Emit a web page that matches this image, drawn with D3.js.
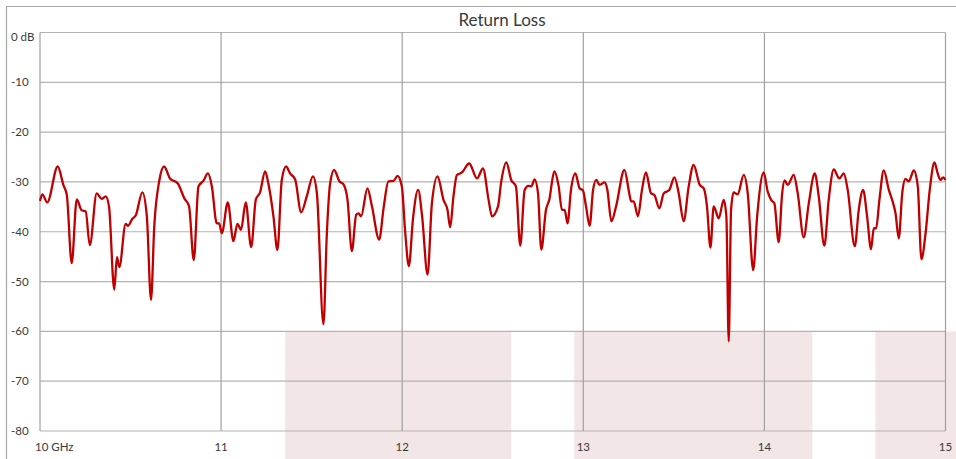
<!DOCTYPE html>
<html>
<head>
<meta charset="utf-8">
<script src="https://cdn.jsdelivr.net/npm/d3@7"></script>
<style>
  body { margin: 0; background: #fff; }
  svg text { font-family: Lato, "Open Sans", sans-serif; fill: #3a3a3a; }
</style>
</head>
<body>
<svg id="chart" width="956" height="459"></svg>
<script>
// frequency (GHz) and return loss (dB)
const freq = [10.000,10.013,10.040,10.098,10.129,10.148,10.175,10.203,10.230,10.252,10.275,10.313,10.341,10.363,10.381,10.410,10.425,10.438,10.473,10.485,
  10.510,10.529,10.565,10.590,10.613,10.631,10.659,10.685,10.718,10.761,10.797,10.823,10.849,10.875,10.902,10.927,10.949,10.976,10.989,11.004,
  11.037,11.068,11.090,11.110,11.136,11.166,11.192,11.215,11.243,11.261,11.289,11.311,11.335,11.359,11.381,11.409,11.442,11.473,11.507,11.529,
  11.565,11.584,11.602,11.624,11.654,11.676,11.698,11.722,11.746,11.759,11.773,11.808,11.833,11.873,11.897,11.924,11.952,11.974,11.998,12.017,
  12.037,12.059,12.088,12.110,12.140,12.164,12.195,12.228,12.250,12.265,12.283,12.302,12.330,12.370,12.413,12.446,12.477,12.496,12.529,12.547,
  12.575,12.602,12.628,12.652,12.676,12.698,12.713,12.731,12.750,12.768,12.794,12.812,12.840,12.864,12.882,12.897,12.913,12.932,12.956,12.980,
  12.998,13.015,13.035,13.054,13.072,13.090,13.118,13.133,13.155,13.181,13.227,13.254,13.264,13.278,13.302,13.324,13.346,13.374,13.392,13.420,
  13.444,13.462,13.475,13.503,13.527,13.554,13.582,13.609,13.643,13.665,13.683,13.702,13.720,13.748,13.775,13.790,13.803,13.816,13.830,13.852,
  13.886,13.908,13.938,13.960,13.996,14.018,14.037,14.055,14.079,14.098,14.112,14.129,14.162,14.184,14.217,14.245,14.278,14.300,14.331,14.355,
  14.383,14.414,14.438,14.460,14.499,14.521,14.545,14.567,14.589,14.604,14.617,14.635,14.659,14.687,14.711,14.724,14.742,14.761,14.779,14.797,
  14.825,14.847,14.867,14.890,14.913,14.939,14.957,14.972,14.987,15.000];
const loss = [-33.8,-32.5,-34.1,-26.9,-30.6,-32.6,-46.3,-33.5,-35.7,-35.9,-42.7,-32.3,-33.4,-32.9,-34.9,-51.6,-45.1,-47.1,-38.4,-38.8,
  -37.4,-36.7,-32.1,-36.9,-53.7,-38.9,-29.7,-26.9,-29.3,-30.3,-33.3,-34.9,-45.7,-30.9,-29.8,-28.3,-30.9,-38.3,-38.3,-40.3,
  -34.1,-41.9,-38.4,-39.6,-34.1,-43.1,-33.5,-32.1,-27.9,-30.3,-36.9,-43.7,-29.6,-26.9,-28.3,-29.5,-36.1,-32.9,-28.9,-32.3,
  -58.6,-40.3,-30.3,-27.6,-29.9,-30.5,-33.6,-43.9,-36.6,-36.3,-36.9,-31.3,-34.9,-41.6,-35.3,-29.9,-29.8,-28.8,-30.9,-40.3,
  -46.9,-37.6,-31.6,-36.9,-48.6,-34.3,-28.9,-33.6,-35.6,-39.1,-32.9,-28.6,-28.1,-26.3,-29.3,-27.3,-33.6,-36.9,-34.9,-29.9,
  -26.1,-29.6,-30.9,-42.8,-31.6,-30.8,-30.9,-29.5,-32.3,-43.6,-35.6,-33.6,-27.9,-30.9,-35.6,-35.6,-38.3,-31.6,-28.3,-31.3,
  -31.7,-34.9,-38.8,-31.6,-29.6,-30.6,-30.1,-31.6,-37.9,-34.9,-27.6,-32.3,-33.9,-33.9,-36.9,-31.6,-28.1,-32.3,-32.6,-35.3,
  -32.3,-31.9,-31.6,-29.1,-32.3,-37.9,-30.9,-26.6,-30.6,-31.3,-34.9,-43.2,-34.9,-37.3,-33.6,-36.9,-62.0,-35.6,-32.1,-32.5,
  -28.6,-32.3,-47.7,-36.9,-28.1,-31.9,-33.6,-34.3,-42.1,-32.3,-29.7,-30.6,-28.6,-32.3,-41.1,-34.3,-28.3,-32.9,-42.8,-33.6,
  -27.5,-29.3,-28.3,-31.6,-42.9,-35.6,-31.6,-36.9,-43.5,-39.3,-39.3,-33.6,-27.7,-31.6,-34.3,-36.3,-41.3,-32.3,-29.4,-29.9,
  -27.7,-30.9,-45.5,-40.3,-31.6,-26.1,-28.3,-29.6,-29.1,-29.6];

// shaded frequency bands below the -60 dB line
const bandStart = [11.354, 12.950, 14.613];
const bandEnd = [12.602, 14.265, 15.060];

const xTicks = [10, 11, 12, 13, 14, 15];
const xTickLabels = ['10 GHz', '11', '12', '13', '14', '15'];
const yTicks = [0, -10, -20, -30, -40, -50, -60, -70, -80];
const yTickLabels = ['0 dB', '-10', '-20', '-30', '-40', '-50', '-60', '-70', '-80'];

const svg = d3.select('#chart');
const W = 956, H = 459;
const plotL = 40, plotR = 945.5, plotT = 32.5, plotB = 431;

const x = d3.scaleLinear().domain([10, 15]).range([plotL, plotR]);
const y = d3.scaleLinear().domain([0, -80]).range([plotT, plotB]);

// outer frame (top and left edges only)
svg.append('path')
  .attr('d', `M6.5,${H} V6.5 H${W}`)
  .attr('fill', 'none')
  .attr('stroke', '#a6a6a6')
  .attr('stroke-width', 1.2);

// bands
svg.selectAll('rect.band')
  .data(bandStart.map((s, i) => [s, bandEnd[i]]))
  .enter()
  .append('rect')
  .attr('class', 'band')
  .attr('x', d => x(d[0]))
  .attr('width', d => x(d[1]) - x(d[0]))
  .attr('y', y(-60))
  .attr('height', H - y(-60))
  .attr('fill', '#f2e6e7');

// horizontal grid
svg.selectAll('line.hgrid')
  .data(yTicks)
  .enter()
  .append('line')
  .attr('class', 'hgrid')
  .attr('x1', plotL).attr('x2', plotR)
  .attr('y1', d => y(d)).attr('y2', d => y(d))
  .attr('stroke', '#b3b3b3')
  .attr('stroke-width', 1.2);

// vertical grid
svg.selectAll('line.vgrid')
  .data(xTicks)
  .enter()
  .append('line')
  .attr('class', 'vgrid')
  .attr('x1', d => x(d)).attr('x2', d => x(d))
  .attr('y1', plotT).attr('y2', plotB)
  .attr('stroke', '#a0a0a0')
  .attr('stroke-width', 1.2);

// title
svg.append('text')
  .attr('x', 502).attr('y', 26)
  .attr('text-anchor', 'middle')
  .attr('font-size', 17)
  .text('Return Loss');

// y labels
svg.selectAll('text.ylab')
  .data(yTicks)
  .enter()
  .append('text')
  .attr('class', 'ylab')
  .attr('x', 11)
  .attr('y', (d, i) => y(d) + (i === 0 ? 4 : 0))
  .attr('dy', '0.35em')
  .attr('font-size', 11.5)
  .text((d, i) => yTickLabels[i]);

// x labels
svg.selectAll('text.xlab')
  .data(xTicks)
  .enter()
  .append('text')
  .attr('class', 'xlab')
  .attr('x', (d, i) => i === 0 ? 35 : x(d))
  .attr('y', 451)
  .attr('text-anchor', (d, i) => i === 0 ? 'start' : 'middle')
  .attr('font-size', 11.5)
  .text((d, i) => xTickLabels[i]);

// trace
const line = d3.line()
  .x(d => x(d[0]))
  .y(d => y(d[1]))
  .curve(d3.curveMonotoneX);

svg.append('path')
  .datum(freq.map((f, i) => [f, loss[i]]))
  .attr('d', line)
  .attr('fill', 'none')
  .attr('stroke', '#c00000')
  .attr('stroke-width', 2.3)
  .attr('stroke-linejoin', 'round');
</script>
</body>
</html>
